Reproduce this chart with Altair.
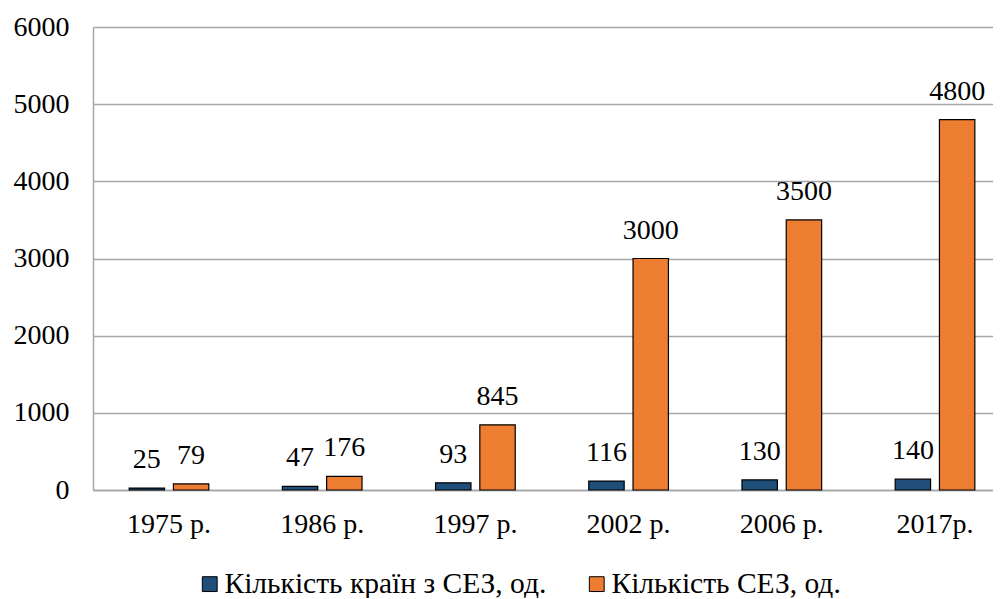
import altair as alt
import pandas as pd

years = ["1975 р.", "1986 р.", "1997 р.", "2002 р.", "2006 р.", "2017р."]
countries = [25, 47, 93, 116, 130, 140]
sez = [79, 176, 845, 3000, 3500, 4800]
series = ["Кількість країн з СЕЗ, од.", "Кількість СЕЗ, од."]
colors = ["#1F4E79", "#ED7D31"]

rows = []
for y, c, s in zip(years, countries, sez):
    rows.append({"year": y, "series": series[0], "value": c})
    rows.append({"year": y, "series": series[1], "value": s})
df = pd.DataFrame(rows)

FONT = "Liberation Serif, Times New Roman, serif"
FS = 28

xscale = alt.Scale(paddingInner=0.48, paddingOuter=0.236, range=[0, 918])
x = alt.X("year:N", sort=years, title=None, scale=xscale,
          axis=alt.Axis(labelAngle=0, labelFont=FONT, labelFontSize=FS, labelColor="black",
                        ticks=False, domainColor="#A6A6A6", domainWidth=1.5, labelPadding=20))
xo = alt.XOffset("series:N", sort=series, scale=alt.Scale(paddingInner=0.2))

bars = alt.Chart(df).mark_bar(stroke="black", strokeWidth=1.2).encode(
    x=x, xOffset=xo,
    y=alt.Y("value:Q", title=None,
            scale=alt.Scale(domain=[0, 6000]),
            axis=alt.Axis(values=[0, 1000, 2000, 3000, 4000, 5000, 6000], format="d",
                          labelFont=FONT, labelFontSize=FS, labelColor="black",
                          ticks=False, domainColor="#A6A6A6", domainWidth=1.5,
                          gridColor="#A6A6A6", gridWidth=1.5, labelPadding=24)),
    color=alt.Color("series:N", sort=series,
                    scale=alt.Scale(domain=series, range=colors),
                    legend=alt.Legend(title=None, orient="none", direction="horizontal",
                                      legendX=102, legendY=542,
                                      labelFont=FONT, labelFontSize=29.5, labelColor="black",
                                      labelLimit=600,
                                      symbolType="square", symbolSize=220,
                                      symbolStrokeColor="black", symbolStrokeWidth=1,
                                      columnPadding=35, labelOffset=0)),
)

text = alt.Chart(df).mark_text(baseline="alphabetic", dy=-20, font=FONT, fontSize=FS, color="black").encode(
    x=alt.X("year:N", sort=years, title=None, scale=xscale), xOffset=xo,
    y="value:Q", text="value:Q",
)

chart = (bars + text).properties(
    width=900, height=463,
    autosize=alt.AutoSizeParams(type="none"),
    padding={"left": 85, "top": 19, "right": 0, "bottom": 108},
).configure(font=FONT).configure_text(font=FONT).configure_legend(labelFont=FONT).configure_view(stroke=None)

chart.save("out.html", embed_options={"renderer": "svg", "actions": False})
